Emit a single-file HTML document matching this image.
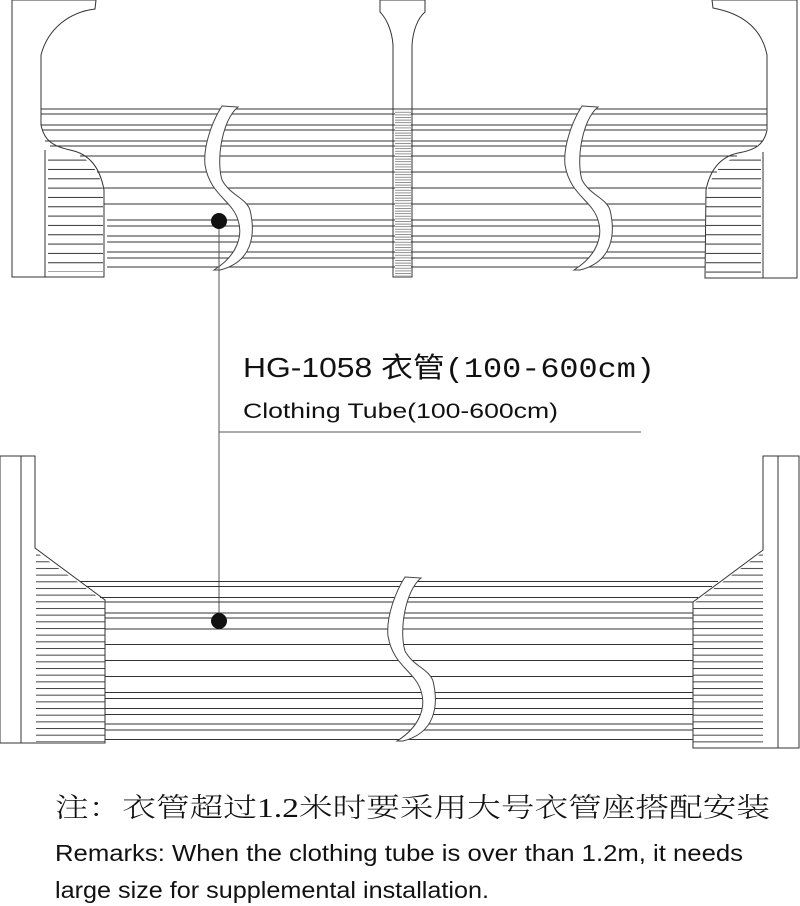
<!DOCTYPE html>
<html><head><meta charset="utf-8"><style>html,body{margin:0;padding:0;background:#fff}svg{display:block}</style></head>
<body>
<svg width="800" height="906" viewBox="0 0 800 906" xmlns="http://www.w3.org/2000/svg">
<defs>
<pattern id="h1" width="10" height="9.33" patternUnits="userSpaceOnUse" y="1"><line x1="0" y1="0.5" x2="10" y2="0.5" stroke="#333" stroke-width="1"/></pattern>
<pattern id="h2" width="10" height="6.67" patternUnits="userSpaceOnUse" y="1"><line x1="0" y1="0.5" x2="10" y2="0.5" stroke="#444" stroke-width="1"/></pattern>
<pattern id="h3" width="10" height="2.6" patternUnits="userSpaceOnUse"><line x1="0" y1="0.5" x2="10" y2="0.5" stroke="#777" stroke-width="0.8"/></pattern>
</defs>
<g fill="none" stroke="#333" stroke-width="1">
<g>
<line x1="41" y1="109" x2="767" y2="109"/><line x1="41" y1="114" x2="767" y2="114"/>
<line x1="41" y1="125" x2="767" y2="125"/><line x1="42" y1="130" x2="766" y2="130"/>
<line x1="45" y1="141" x2="762" y2="141"/><line x1="50" y1="146" x2="757" y2="146"/>
<line x1="80" y1="156" x2="737" y2="156"/><line x1="97" y1="172" x2="717" y2="172"/>
<line x1="103" y1="188" x2="706" y2="188"/><line x1="104" y1="204" x2="705" y2="204"/>
<line x1="107" y1="220" x2="705" y2="220"/><line x1="107" y1="226" x2="705" y2="226"/>
<line x1="107" y1="236" x2="705" y2="236"/><line x1="107" y1="242" x2="705" y2="242"/>
<line x1="107" y1="252" x2="705" y2="252"/><line x1="107" y1="258" x2="705" y2="258"/>
<line x1="107" y1="267" x2="705" y2="267"/>
</g>
<path d="M48,152 L70,152 C88,156 100,172 103,190 L103,272 L48,272 Z" fill="url(#h1)" stroke="none"/>
<path d="M12,0 L96,0 L95,9 C70,12 48,28 41,55 L41,125 C44,140 52,146 70,150 C90,154 100,168 104,190 L104,277 L12,277 Z" fill="none"/>
<line x1="45" y1="150" x2="45" y2="277"/>
<path d="M706,195 C712,170 725,160 740,156 L761,152 L761,273 L706,273 Z" fill="url(#h1)" stroke="none"/>
<path d="M797,0 L712,0 L713,8 C745,14 762,30 767,55 L767,130 C764,145 755,150 738,153 C720,157 710,170 706,190 L705,278 L797,278 Z" fill="none"/>
<line x1="763" y1="152" x2="763" y2="278"/>
<rect x="395" y="109" width="16" height="167" fill="#fff" stroke="none"/>
<rect x="395" y="109" width="16" height="167" fill="url(#h3)" stroke="none"/>
<path d="M380,0 L425,0 L425,12 C418,18 413,30 412,45 L412,277 L393,277 L393,45 C392,30 386,18 380,12 Z" fill="none"/>
<g fill="#fff" stroke="#444">
<path d="M222,106 L238,107 C222,120 216,160 222,180 C230,195 246,198 250,210 C256,235 252,262 220,270 L214,270 C238,255 243,235 238,220 C232,200 210,195 205,165 C203,145 213,120 222,106 Z"/>
</g>
<g transform="translate(360,0)" fill="#fff" stroke="#444"><path d="M222,106 L238,107 C222,120 216,160 222,180 C230,195 246,198 250,210 C256,235 252,262 220,270 L214,270 C238,255 243,235 238,220 C232,200 210,195 205,165 C203,145 213,120 222,106 Z"/></g>
<line x1="219" y1="221" x2="219" y2="621" stroke="#555"/>
<line x1="219" y1="432" x2="641" y2="432" stroke="#555"/>
<g>
<line x1="80" y1="581.5" x2="718" y2="581.5"/><line x1="86" y1="586.5" x2="712" y2="586.5"/>
<line x1="100" y1="597.5" x2="698" y2="597.5"/>
<line x1="105" y1="602" x2="693" y2="602"/><line x1="105" y1="613" x2="693" y2="613"/>
<line x1="105" y1="618" x2="693" y2="618"/><line x1="105" y1="629" x2="693" y2="629"/>
<line x1="105" y1="644.5" x2="693" y2="644.5"/><line x1="105" y1="660.5" x2="693" y2="660.5"/>
<line x1="105" y1="676.5" x2="693" y2="676.5"/><line x1="105" y1="692.5" x2="693" y2="692.5"/>
<line x1="105" y1="698.5" x2="693" y2="698.5"/><line x1="105" y1="708.5" x2="693" y2="708.5"/>
<line x1="105" y1="714.5" x2="693" y2="714.5"/><line x1="105" y1="724" x2="693" y2="724"/>
<line x1="105" y1="730" x2="693" y2="730"/><line x1="105" y1="739.5" x2="693" y2="739.5"/>
</g>
<path d="M36,552 L105,602 L105,742 L36,742 Z" fill="url(#h2)" stroke="none"/>
<path d="M0,456 L35,456 L35,548 L105,600 L105,743 L0,743 Z"/>
<line x1="21" y1="456" x2="21" y2="743"/>
<path d="M693,604 L763,552 L763,746 L693,746 Z" fill="url(#h2)" stroke="none"/>
<path d="M799,456 L763,456 L763,550 L693,602 L693,748 L799,748 Z"/>
<line x1="778" y1="456" x2="778" y2="748"/>
<g transform="translate(183,471)" fill="#fff" stroke="#444"><path d="M222,106 L238,107 C222,120 216,160 222,180 C230,195 246,198 250,210 C256,235 252,262 220,270 L214,270 C238,255 243,235 238,220 C232,200 210,195 205,165 C203,145 213,120 222,106 Z"/></g>
</g>
<circle cx="219" cy="221" r="8" fill="#111"/>
<circle cx="219" cy="621" r="8" fill="#111"/>
<g fill="#111" font-family="'Liberation Sans','Noto Sans CJK SC',sans-serif">
<text x="243" y="377" font-size="28" textLength="412" lengthAdjust="spacingAndGlyphs">HG-1058 <tspan font-family="'Liberation Mono','Noto Sans CJK SC',monospace">衣管(100-600cm)</tspan></text>
<text x="243" y="418" font-size="21" textLength="315" lengthAdjust="spacingAndGlyphs">Clothing Tube(100-600cm)</text>
<text x="55" y="817" font-size="27" font-family="'Liberation Serif','Noto Serif CJK SC',serif" font-weight="300" textLength="715" lengthAdjust="spacingAndGlyphs">注：衣管超过1.2米时要采用大号衣管座搭配安装</text>
<text x="55" y="861" font-size="23" textLength="688" lengthAdjust="spacingAndGlyphs">Remarks: When the clothing tube is over than 1.2m, it needs</text>
<text x="55" y="898" font-size="23" textLength="434" lengthAdjust="spacingAndGlyphs">large size for supplemental installation.</text>
</g>
</svg>
</body></html>
